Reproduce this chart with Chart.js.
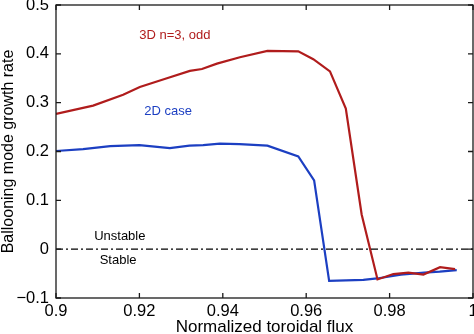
<!DOCTYPE html>
<html>
<head>
<meta charset="utf-8">
<script src="https://cdn.jsdelivr.net/npm/chart.js@4.4.1/dist/chart.umd.min.js"></script>
<style>
  html, body { margin: 0; padding: 0; background: #fff; }
</style>
</head>
<body>
<canvas id="growthChart" width="474" height="334"></canvas>
<script>
// 3D n=3, odd
const flux3d = [0.9, 0.9089, 0.9161, 0.9201, 0.9266, 0.9321, 0.935, 0.9386, 0.9441, 0.9507,
                0.9581, 0.9617, 0.9657, 0.9695, 0.9733, 0.9771, 0.9809, 0.9845, 0.9881, 0.9921, 0.9957];
const rate3d = [0.277, 0.294, 0.316, 0.332, 0.350, 0.365, 0.369, 0.380, 0.393, 0.406,
                0.405, 0.389, 0.364, 0.288, 0.071, -0.062, -0.051, -0.048, -0.052, -0.037, -0.041];

// 2D case
const flux2d = [0.9, 0.9065, 0.913, 0.92, 0.9273, 0.932, 0.9353, 0.9393, 0.944, 0.9507,
                0.9581, 0.9619, 0.9655, 0.9737, 0.977, 0.9827, 0.9883, 0.992, 0.9961];
const rate2d = [0.201, 0.205, 0.211, 0.213, 0.207, 0.212, 0.213, 0.216, 0.215, 0.212,
                0.190, 0.141, -0.065, -0.063, -0.060, -0.052, -0.048, -0.046, -0.043];

const xTicks = [0.9, 0.92, 0.94, 0.96, 0.98, 1];
const yTicks = [-0.1, 0, 0.1, 0.2, 0.3, 0.4, 0.5];

const RED = '#b01c1c';
const BLUE = '#1c3fc2';
const FONT = '"Liberation Sans", Arial, sans-serif';

// text notes, anchored in data units
const notes = [
    { text: '3D n=3, odd', x: 0.9285, y: 0.437, color: RED },
    { text: '2D case', x: 0.9269, y: 0.282, color: BLUE },
    { text: 'Unstable', x: 0.9153, y: 0.027, color: '#000' },
    { text: 'Stable', x: 0.9149, y: -0.024, color: '#000' }
];

const toPoints = (xs, ys) => xs.map((x, i) => ({ x: x, y: ys[i] }));
const fmt = v => String(parseFloat(v.toFixed(2))).replace('-', '\u2212');

// matlab style frame with inward ticks and the text notes
const framePlugin = {
    id: 'frame',
    afterDraw(chart) {
        const { ctx, chartArea: a, scales } = chart;
        ctx.save();
        ctx.strokeStyle = '#1a1a1a';
        ctx.lineWidth = 1.3;
        ctx.strokeRect(a.left, a.top, a.right - a.left, a.bottom - a.top);
        ctx.beginPath();
        xTicks.forEach(v => {
            const px = scales.x.getPixelForValue(v);
            ctx.moveTo(px, a.bottom); ctx.lineTo(px, a.bottom - 5);
            ctx.moveTo(px, a.top); ctx.lineTo(px, a.top + 5);
        });
        yTicks.forEach(v => {
            const py = scales.y.getPixelForValue(v);
            ctx.moveTo(a.left, py); ctx.lineTo(a.left + 5, py);
            ctx.moveTo(a.right, py); ctx.lineTo(a.right - 5, py);
        });
        ctx.stroke();

        ctx.font = '13px ' + FONT;
        ctx.textAlign = 'center';
        ctx.textBaseline = 'middle';
        notes.forEach(n => {
            ctx.fillStyle = n.color;
            ctx.fillText(n.text, scales.x.getPixelForValue(n.x), scales.y.getPixelForValue(n.y));
        });
        ctx.restore();
    }
};

const ctx = document.getElementById('growthChart').getContext('2d');
new Chart(ctx, {
    type: 'line',
    data: {
        datasets: [{
            label: 'zero',
            data: toPoints([0.9, 1], [0, 0]),
            borderColor: '#000',
            borderWidth: 1.2,
            borderDash: [7, 3, 2, 3],
            pointRadius: 0
        }, {
            label: '3D n=3, odd',
            data: toPoints(flux3d, rate3d),
            borderColor: RED,
            borderWidth: 2.2,
            pointRadius: 0,
            tension: 0
        }, {
            label: '2D case',
            data: toPoints(flux2d, rate2d),
            borderColor: BLUE,
            borderWidth: 2.2,
            pointRadius: 0,
            tension: 0
        }]
    },
    options: {
        responsive: false,
        animation: false,
        layout: { padding: { top: 5, right: 1, left: 0, bottom: 0 } },
        plugins: {
            legend: { display: false },
            tooltip: { enabled: false }
        },
        scales: {
            x: {
                type: 'linear',
                min: 0.9,
                max: 1,
                afterBuildTicks: s => { s.ticks = xTicks.map(v => ({ value: v })); },
                afterFit: s => { s.height = 36; s.paddingLeft = 0; s.paddingRight = 0; },
                grid: { display: false, drawTicks: false },
                border: { display: false },
                ticks: {
                    maxRotation: 0,
                    autoSkip: false,
                    padding: 4,
                    color: '#000',
                    font: { family: FONT, size: 16.5 },
                    callback: v => fmt(v)
                },
                title: {
                    display: true,
                    text: 'Normalized toroidal flux',
                    color: '#000',
                    padding: { top: 0, bottom: -2 },
                    font: { family: FONT, size: 17, lineHeight: 1 }
                }
            },
            y: {
                min: -0.1,
                max: 0.5,
                afterBuildTicks: s => { s.ticks = yTicks.map(v => ({ value: v })); },
                afterFit: s => { s.width = 56; s.paddingTop = 0; s.paddingBottom = 0; },
                grid: { display: false, drawTicks: false },
                border: { display: false },
                ticks: {
                    padding: 7,
                    color: '#000',
                    font: { family: FONT, size: 16.5 },
                    callback: v => fmt(v)
                },
                title: {
                    display: true,
                    text: 'Ballooning mode growth rate',
                    color: '#000',
                    padding: { top: 1, bottom: 0 },
                    font: { family: FONT, size: 16, lineHeight: 1 }
                }
            }
        }
    },
    plugins: [framePlugin]
});
</script>
</body>
</html>
